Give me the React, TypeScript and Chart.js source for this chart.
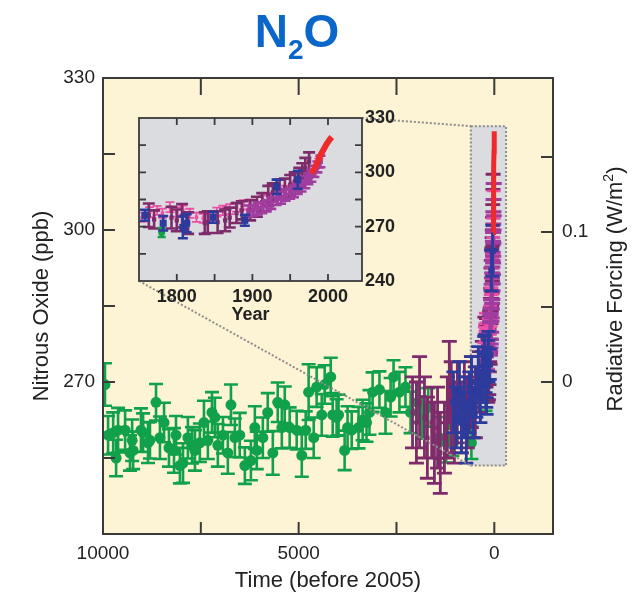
import React, { useEffect, useRef } from 'react';
import { Chart, registerables } from 'chart.js';

Chart.register(...registerables);

const FONT = "'Liberation Sans', Arial, Helvetica, sans-serif";
const TEXT = '#222222';
const FRAME = '#3a3a3a';
const PLOT_BG = '#fdf3d5';
const INSET_BG = '#dadcdf';
const DOT = '#8c8c8c';
const GREEN = '#10a14a';
const MAROON = '#7d2b6b';
const PURPLE = '#a13d9f';
const PINK = '#ec4fa6';
const BLUE = '#2c3b9c';
const RED = '#ee2a2a';

// ---------------- main chart axes ----------------
const AGE_MIN = -1500;
const AGE_MAX = 10000;
const PPB_MIN = 240;
const PPB_MAX = 330;
const AGE_TICKS = [10000, 7500, 5000, 2500, 0];
const AGE_LABELS = [10000, 5000, 0];
const PPB_TICKS = [240, 255, 270, 285, 300, 315, 330];
const PPB_LABELS = [270, 300, 330];
const RF_TICKS = [0, 0.05, 0.1, 0.15];
const RF_LABELS = [0, 0.1];
const RF_ZERO_PPB = 270;
const RF_PPB_PER_TENTH = 29.6;
const REF_YEAR = 2005;

// zoom box drawn in the main chart (years before 2005 / ppb)
const ZOOM_AGE = [600, -300];
const ZOOM_PPB = [253.5, 320.5];

// ---------------- inset axes ----------------
const YEAR_MIN = 1750;
const YEAR_MAX = 2045;
const YEAR_TICKS = [1800, 1850, 1900, 1950, 2000];
const YEAR_LABELS = [1800, 1900, 2000];
const INSET_PPB_TICKS = [240, 255, 270, 285, 300, 315, 330];
const INSET_PPB_LABELS = [240, 270, 300, 330];

// ---------------- ice-core data, years before 2005 ----------------
const GREEN_AGE = [
  9950, 9870, 9740, 9665, 9615, 9435, 9310, 9255, 9230, 9030,
  8975, 8850, 8800, 8645, 8545, 8440, 8315, 8185, 8135, 8035,
  7955, 7830, 7725, 7650, 7525, 7420, 7320, 7215, 7140, 7065,
  6935, 6810, 6730, 6630, 6505, 6375, 6220, 6120, 6070, 5915,
  5790, 5660, 5535, 5430, 5355, 5230, 5050, 4920, 4820, 4745,
  4615, 4540, 4410, 4335, 4180, 4130, 4030, 3980, 3825, 3750,
  3645, 3470, 3365, 3265, 3190, 3110, 2935, 2780, 2650, 2575,
  2425, 2270, 2140, 1960, 1840, 1690, 1400, 1230, 1095, 1070,
  585,
];
const GREEN_PPB = [
  269.5, 259.5, 260, 255, 260.5, 260.5, 256, 258.5, 256.5, 260.5,
  260, 258, 258.5, 266, 259, 262, 257, 256.5, 259.5, 253.5,
  254, 259, 257.5, 256.5, 258, 262, 258.5, 264, 263, 257.5,
  259.5, 256, 265.5, 259, 259.5, 253.5, 254.5, 261, 256.5, 259,
  264, 256, 266, 261, 265.5, 261, 260.5, 255.5, 260.5, 268,
  259, 269, 263.5, 269.5, 271, 263.5, 263, 263.5, 256.5, 261,
  260.5, 261, 262.5, 262, 264, 268, 268.5, 264, 267, 271,
  268, 269, 264, 266, 263, 265, 259, 258, 261.5, 259,
  258,
];
const GREEN_ERR = [
  4.2, 3.8, 4.0, 3.6, 4.4, 3.9, 3.5, 4.1, 3.7, 4.3,
  3.8, 4.0, 3.6, 3.6, 4.2, 3.9, 3.7, 4.4, 3.8, 3.5,
  3.9, 4.1, 3.6, 4.0, 3.8, 4.3, 3.7, 4.0, 3.9, 4.2,
  3.6, 4.1, 4.0, 3.8, 4.4, 3.6, 3.9, 4.2, 3.7, 4.0,
  3.8, 4.3, 3.9, 4.1, 3.6, 4.0, 3.8, 4.2, 3.7, 5.5,
  4.0, 3.9, 4.1, 3.8, 3.8, 4.3, 3.6, 4.0, 3.9, 4.2,
  3.7, 4.1, 4.0, 3.8, 4.4, 3.9, 3.6, 4.2, 3.8, 3.3,
  4.0, 3.9, 4.1, 4.0, 4.2, 3.8, 4.1, 3.9, 3.8, 3.6,
  3.2,
];
const MAROON_AGE = [2090, 1990, 1910, 1785, 1710, 1600, 1530, 1450, 1380, 1275, 1200, 1150, 1100, 1020, 945, 840, 765, 690, 585, 485, 380, 305];
const MAROON_AGE_PPB = [264, 262, 266, 263, 259, 262, 258, 261, 256, 259, 263, 270, 265, 262, 266, 263, 267, 264, 268, 266, 270, 272];
const MAROON_AGE_ERR = [7, 8, 9, 8, 8, 7, 8, 8, 8, 7, 8, 8, 9, 8, 8, 7, 7, 7, 7, 7, 6, 6];
const BLUE_AGE = [1045, 970, 890, 840, 765, 715, 640, 585, 535, 460, 410, 355, 305, 255, 205, 150];
const BLUE_AGE_PPB = [266, 263, 268, 262, 265, 260, 266, 270, 264, 268, 272, 267, 271, 274, 270, 275];
const BLUE_AGE_ERR = [6, 6, 6, 6, 6, 6, 6, 5, 5, 5, 5, 5, 5, 5, 5, 5];

// ---------------- recent data, calendar years ----------------
const PINK_YEAR = [1754, 1764, 1774, 1781, 1791, 1800, 1808, 1817, 1826, 1835, 1844, 1853, 1861, 1870, 1879, 1888, 1897, 1906, 1914, 1924, 1934, 1944, 1954, 1964, 1972, 1980, 1988];
const PINK_PPB = [275.2, 278, 279, 277.4, 280.8, 278, 279, 277.4, 275.2, 274.6, 275.2, 278, 279, 279.7, 280.8, 282, 282.5, 283.6, 284.7, 286, 288, 290, 292, 295, 298, 301, 305];
const PINK_ERR = [2.5, 2.8, 2.5, 2.6, 2.8, 2.5, 2.7, 2.5, 2.6, 2.5, 2.7, 2.5, 2.6, 2.8, 2.5, 2.6, 2.5, 2.7, 2.5, 2.6, 2.5, 2.7, 2.5, 2.6, 2.8, 2.5, 2.7];
const PURPLE_YEAR = [1895, 1901, 1907, 1913, 1919, 1925, 1932, 1938, 1944, 1950, 1955, 1960, 1965, 1970, 1974, 1978, 1982, 1986, 1990];
const PURPLE_PPB = [278.5, 279, 280, 280.5, 281.5, 283, 285, 286, 287.5, 288.5, 289.5, 291, 292.5, 294.5, 296.5, 298, 300.5, 303, 306];
const PURPLE_ERR = [3.2, 3, 3.3, 3, 3.1, 3.2, 3, 3.3, 3.1, 3, 3.2, 3, 3.1, 3.3, 3, 3.2, 3.1, 3, 3.2];
const MAROON_YEAR = [1763, 1770, 1793, 1800, 1807, 1815, 1837, 1841, 1854, 1864, 1870, 1879, 1886, 1897, 1906, 1913, 1921, 1927, 1936, 1943, 1950, 1956, 1962, 1966, 1970, 1975];
const MAROON_PPB = [276.3, 274, 275, 273.5, 276, 272, 272, 272.5, 272.5, 273.5, 275, 277.5, 279, 279, 281, 283.5, 287, 289, 290.5, 291.5, 293, 295, 297, 300, 302.5, 306];
const MAROON_ERR = [6.5, 5, 6, 6, 6.5, 6, 6, 6, 6, 6, 5.5, 5.5, 5, 5.5, 5.5, 5, 5.5, 5, 5.5, 5, 5.5, 5, 5.5, 5, 5.5, 5];
const BLUE_YEAR = [1758, 1782, 1808, 1813, 1848, 1890, 1932, 1960];
const BLUE_PPB = [276.3, 271.9, 269.6, 271.9, 275.2, 273.5, 292, 295.9];
const BLUE_ERR = [3, 4, 6, 5, 3, 3, 4, 5];
const GREEN_YEAR = [1780];
const GREEN_YEAR_PPB = [266.8];
const GREEN_YEAR_ERR = [2.5];
const RED_YEAR = [1978, 1982, 1986, 1990, 1994, 1998, 2002, 2005];
const RED_PPB = [299.5, 302, 305.5, 309.5, 312.5, 315.5, 318, 319.5];

// ---------------- layout ----------------
const MAIN_W = 641;
const MAIN_H = 596;
const MAIN_AREA = { left: 103, top: 78, right: 553, bottom: 534 };
const INSET_BOX = { left: 120, top: 98, width: 280, height: 240 };
const INSET_AREA = { left: 139, top: 118, right: 362, bottom: 281 };

const toAge = (years: number[]) => years.map((y) => REF_YEAR - y);
const pts = (xs: number[], ys: number[]) => xs.map((x, i) => ({ x, y: ys[i] }));

const errorBarPlugin = {
  id: 'errorBars',
  beforeDatasetDraw(chart: any, args: any) {
    const ds = chart.data.datasets[args.index];
    if (!ds.errors) return;
    const meta = args.meta;
    const yScale = chart.scales[meta.yAxisID];
    const a = chart.chartArea;
    const ctx = chart.ctx;
    const cap = ds.capHalf || 5;
    ctx.save();
    ctx.beginPath();
    ctx.rect(a.left, a.top, a.right - a.left, a.bottom - a.top);
    ctx.clip();
    ctx.strokeStyle = ds.errorColor;
    ctx.lineWidth = ds.errorWidth || 2;
    ctx.beginPath();
    meta.data.forEach((el: any, i: number) => {
      const p = ds.data[i];
      const e = ds.errors[i] ?? 0;
      const x = el.x;
      const yt = yScale.getPixelForValue(p.y + e);
      const yb = yScale.getPixelForValue(p.y - e);
      ctx.moveTo(x, yt);
      ctx.lineTo(x, yb);
      ctx.moveTo(x - cap, yt);
      ctx.lineTo(x + cap, yt);
      ctx.moveTo(x - cap, yb);
      ctx.lineTo(x + cap, yb);
    });
    ctx.stroke();
    ctx.restore();
  },
};

function drawTicks(
  ctx: any, a: any, xScale: any, yScale: any, xTicks: number[], yTicks: number[],
  len: number, topLen: number, rScale?: any, rTicks?: number[],
) {
  ctx.beginPath();
  xTicks.forEach((v) => {
    const px = xScale.getPixelForValue(v);
    ctx.moveTo(px, a.bottom);
    ctx.lineTo(px, a.bottom - len);
    ctx.moveTo(px, a.top);
    ctx.lineTo(px, a.top + topLen);
  });
  yTicks.forEach((v) => {
    const py = yScale.getPixelForValue(v);
    if (py <= a.top + 1 || py >= a.bottom - 1) return;
    ctx.moveTo(a.left, py);
    ctx.lineTo(a.left + len, py);
    if (!rScale) {
      ctx.moveTo(a.right, py);
      ctx.lineTo(a.right - len, py);
    }
  });
  if (rScale && rTicks) {
    rTicks.forEach((v) => {
      const py = rScale.getPixelForValue(v);
      ctx.moveTo(a.right, py);
      ctx.lineTo(a.right - len, py);
    });
  }
  ctx.stroke();
}

const mainDecor = {
  id: 'mainDecor',
  beforeDraw(chart: any) {
    const { ctx, chartArea: a, scales } = chart;
    ctx.save();
    ctx.fillStyle = PLOT_BG;
    ctx.fillRect(a.left, a.top, a.right - a.left, a.bottom - a.top);
    const x0 = scales.x.getPixelForValue(ZOOM_AGE[0]);
    const x1 = scales.x.getPixelForValue(ZOOM_AGE[1]);
    const y0 = scales.y.getPixelForValue(ZOOM_PPB[1]);
    const y1 = scales.y.getPixelForValue(ZOOM_PPB[0]);
    ctx.fillStyle = INSET_BG;
    ctx.fillRect(x0, y0, x1 - x0, y1 - y0);
    ctx.setLineDash([2, 2]);
    ctx.strokeStyle = DOT;
    ctx.lineWidth = 2;
    ctx.strokeRect(x0, y0, x1 - x0, y1 - y0);
    ctx.restore();
  },
  afterDatasetsDraw(chart: any) {
    const { ctx, chartArea: a, scales } = chart;
    const x0 = scales.x.getPixelForValue(ZOOM_AGE[0]);
    const y0 = scales.y.getPixelForValue(ZOOM_PPB[1]);
    const y1 = scales.y.getPixelForValue(ZOOM_PPB[0]);
    ctx.save();
    ctx.setLineDash([2, 2]);
    ctx.strokeStyle = DOT;
    ctx.lineWidth = 2;
    ctx.beginPath();
    ctx.moveTo(INSET_AREA.right, INSET_AREA.top);
    ctx.lineTo(x0, y0);
    ctx.moveTo(INSET_AREA.left, INSET_AREA.bottom);
    ctx.lineTo(x0, y1);
    ctx.stroke();
    ctx.setLineDash([]);
    ctx.strokeStyle = FRAME;
    ctx.lineWidth = 2;
    ctx.strokeRect(a.left, a.top, a.right - a.left, a.bottom - a.top);
    drawTicks(ctx, a, scales.x, scales.y, AGE_TICKS.filter((v) => v !== AGE_MAX), PPB_TICKS, 12, 17, scales.y2, RF_TICKS);
    ctx.restore();
  },
  afterDraw(chart: any) {
    const { ctx } = chart;
    ctx.save();
    ctx.translate(616, 289);
    ctx.rotate(-Math.PI / 2);
    ctx.fillStyle = TEXT;
    ctx.textBaseline = 'middle';
    ctx.textAlign = 'left';
    const mainFont = `22px ${FONT}`;
    const supFont = `14px ${FONT}`;
    const p1 = 'Radiative Forcing (W/m';
    const p2 = '2';
    const p3 = ')';
    ctx.font = mainFont;
    const w1 = ctx.measureText(p1).width;
    const w3 = ctx.measureText(p3).width;
    ctx.font = supFont;
    const w2 = ctx.measureText(p2).width;
    let x = -(w1 + w2 + w3) / 2;
    ctx.font = mainFont;
    ctx.fillText(p1, x, 0);
    x += w1;
    ctx.font = supFont;
    ctx.fillText(p2, x, -7);
    x += w2;
    ctx.font = mainFont;
    ctx.fillText(p3, x, 0);
    ctx.restore();
  },
};

const insetDecor = {
  id: 'insetDecor',
  beforeDraw(chart: any) {
    const { ctx, chartArea: a } = chart;
    ctx.save();
    ctx.fillStyle = INSET_BG;
    ctx.fillRect(a.left, a.top, a.right - a.left, a.bottom - a.top);
    ctx.restore();
  },
  afterDatasetsDraw(chart: any) {
    const { ctx, chartArea: a, scales } = chart;
    ctx.save();
    ctx.strokeStyle = FRAME;
    ctx.lineWidth = 1.8;
    ctx.strokeRect(a.left, a.top, a.right - a.left, a.bottom - a.top);
    drawTicks(ctx, a, scales.x, scales.y, YEAR_TICKS, INSET_PPB_TICKS, 7, 7);
    ctx.restore();
  },
};

function errSeries(label: string, xs: number[], ys: number[], errs: number[], color: string, o: any) {
  return {
    label,
    data: pts(xs, ys),
    errors: errs,
    errorColor: color,
    backgroundColor: color,
    borderColor: color,
    borderWidth: 0,
    ...o,
  };
}

export default function App() {
  const mainRef = useRef<HTMLCanvasElement>(null);
  const insetRef = useRef<HTMLCanvasElement>(null);

  useEffect(() => {
    const tickFont = { family: FONT, size: 19 };
    const titleFont = { family: FONT, size: 22 };
    const rfMin = ((PPB_MIN - RF_ZERO_PPB) / RF_PPB_PER_TENTH) * 0.1;
    const rfMax = ((PPB_MAX - RF_ZERO_PPB) / RF_PPB_PER_TENTH) * 0.1;

    const main = new Chart(mainRef.current as HTMLCanvasElement, {
      type: 'scatter',
      data: {
        datasets: [
          {
            label: 'Atmospheric',
            data: pts(toAge(RED_YEAR), RED_PPB),
            showLine: true,
            borderColor: RED,
            borderWidth: 5,
            pointRadius: 0,
            order: 0,
          } as any,
          errSeries('Blue', [...BLUE_AGE, ...toAge(BLUE_YEAR)], [...BLUE_AGE_PPB, ...BLUE_PPB], [...BLUE_AGE_ERR, ...BLUE_ERR], BLUE, { pointStyle: 'rect', pointRadius: 4.5, errorWidth: 2.8, capHalf: 7, order: 1 }),
          errSeries('Purple', toAge(PURPLE_YEAR), PURPLE_PPB, PURPLE_ERR, PURPLE, { pointStyle: 'rect', pointRadius: 3, errorWidth: 3, capHalf: 8, order: 2 }),
          errSeries('Pink', toAge(PINK_YEAR), PINK_PPB, PINK_ERR, PINK, { pointStyle: 'rect', pointRadius: 2.5, errorWidth: 2.6, capHalf: 7, order: 3 }),
          errSeries('Maroon', [...MAROON_AGE, ...toAge(MAROON_YEAR)], [...MAROON_AGE_PPB, ...MAROON_PPB], [...MAROON_AGE_ERR, ...MAROON_ERR], MAROON, { pointStyle: 'rect', pointRadius: 3, errorWidth: 2.8, capHalf: 7.5, order: 4 }),
          errSeries('Green', [...GREEN_AGE, ...toAge(GREEN_YEAR)], [...GREEN_PPB, ...GREEN_YEAR_PPB], [...GREEN_ERR, ...GREEN_YEAR_ERR], GREEN, { pointStyle: 'circle', pointRadius: 5.5, errorWidth: 2.6, capHalf: 7, order: 5 }),
        ],
      },
      options: {
        responsive: false,
        animation: false,
        devicePixelRatio: 1,
        layout: { padding: { top: MAIN_AREA.top, left: 0, right: 0, bottom: 0 } },
        plugins: { legend: { display: false }, tooltip: { enabled: false }, title: { display: false } },
        scales: {
          x: {
            type: 'linear',
            position: 'bottom',
            reverse: true,
            min: AGE_MIN,
            max: AGE_MAX,
            afterBuildTicks: (s: any) => { s.ticks = AGE_TICKS.map((v) => ({ value: v })); },
            afterFit: (s: any) => { s.height = MAIN_H - MAIN_AREA.bottom; },
            ticks: {
              autoSkip: false,
              maxRotation: 0,
              padding: 8,
              color: TEXT,
              font: tickFont,
              callback: (v: any) => (AGE_LABELS.includes(v) ? String(v) : ''),
            },
            grid: { display: false, drawTicks: false },
            border: { display: false },
            title: { display: true, text: 'Time (before 2005)', color: TEXT, font: titleFont, padding: { top: 0, bottom: 2 } },
          },
          y: {
            type: 'linear',
            position: 'left',
            min: PPB_MIN,
            max: PPB_MAX,
            afterBuildTicks: (s: any) => { s.ticks = PPB_TICKS.map((v) => ({ value: v })); },
            afterFit: (s: any) => { s.width = MAIN_AREA.left; },
            ticks: {
              autoSkip: false,
              padding: 8,
              color: TEXT,
              font: tickFont,
              callback: (v: any) => (PPB_LABELS.includes(v) ? String(v) : ''),
            },
            grid: { display: false, drawTicks: false },
            border: { display: false },
            title: { display: true, text: 'Nitrous Oxide (ppb)', color: TEXT, font: titleFont, padding: { top: 29, bottom: 0 } },
          },
          y2: {
            type: 'linear',
            position: 'right',
            min: rfMin,
            max: rfMax,
            afterBuildTicks: (s: any) => { s.ticks = RF_TICKS.map((v) => ({ value: v })); },
            afterFit: (s: any) => { s.width = MAIN_W - MAIN_AREA.right; },
            ticks: {
              autoSkip: false,
              padding: 9,
              color: TEXT,
              font: tickFont,
              callback: (v: any) => (RF_LABELS.includes(v) ? String(v) : ''),
            },
            grid: { display: false, drawTicks: false },
            border: { display: false },
          },
        },
      } as any,
      plugins: [mainDecor, errorBarPlugin],
    });

    const boldTick = { family: FONT, size: 18, weight: 'bold' as const };
    const inset = new Chart(insetRef.current as HTMLCanvasElement, {
      type: 'scatter',
      data: {
        datasets: [
          {
            label: 'Atmospheric',
            data: pts(RED_YEAR, RED_PPB),
            showLine: true,
            borderColor: RED,
            borderWidth: 6,
            pointRadius: 0,
            order: 0,
          } as any,
          errSeries('Blue', BLUE_YEAR, BLUE_PPB, BLUE_ERR, BLUE, { pointStyle: 'rect', pointRadius: 5, errorWidth: 2.6, capHalf: 5, order: 1 }),
          errSeries('Green', GREEN_YEAR, GREEN_YEAR_PPB, GREEN_YEAR_ERR, GREEN, { pointStyle: 'circle', pointRadius: 3.5, errorWidth: 2.4, capHalf: 4, order: 2 }),
          errSeries('Purple', PURPLE_YEAR, PURPLE_PPB, PURPLE_ERR, PURPLE, { pointStyle: 'rect', pointRadius: 3.5, errorWidth: 2.6, capHalf: 5, order: 3 }),
          errSeries('Maroon', MAROON_YEAR, MAROON_PPB, MAROON_ERR, MAROON, { pointStyle: 'rect', pointRadius: 3, errorWidth: 2.6, capHalf: 6, order: 4 }),
          errSeries('Pink', PINK_YEAR, PINK_PPB, PINK_ERR, PINK, { pointStyle: 'rect', pointRadius: 2.5, errorWidth: 1.8, capHalf: 4.5, order: 5 }),
        ],
      },
      options: {
        responsive: false,
        animation: false,
        devicePixelRatio: 1,
        layout: {
          padding: {
            left: INSET_AREA.left - INSET_BOX.left,
            top: INSET_AREA.top - INSET_BOX.top,
            right: 0,
            bottom: 0,
          },
        },
        plugins: { legend: { display: false }, tooltip: { enabled: false }, title: { display: false } },
        scales: {
          x: {
            type: 'linear',
            position: 'bottom',
            min: YEAR_MIN,
            max: YEAR_MAX,
            afterBuildTicks: (s: any) => { s.ticks = YEAR_TICKS.map((v) => ({ value: v })); },
            afterFit: (s: any) => { s.height = INSET_BOX.top + INSET_BOX.height - INSET_AREA.bottom; },
            ticks: {
              autoSkip: false,
              maxRotation: 0,
              padding: 5,
              color: TEXT,
              font: boldTick,
              callback: (v: any) => (YEAR_LABELS.includes(v) ? String(v) : ''),
            },
            grid: { display: false, drawTicks: false },
            border: { display: false },
            title: { display: true, text: 'Year', color: TEXT, font: boldTick, padding: { top: 0, bottom: 12 } },
          },
          y: {
            type: 'linear',
            position: 'right',
            min: PPB_MIN,
            max: PPB_MAX,
            afterBuildTicks: (s: any) => { s.ticks = INSET_PPB_TICKS.map((v) => ({ value: v })); },
            afterFit: (s: any) => { s.width = INSET_BOX.left + INSET_BOX.width - INSET_AREA.right; },
            ticks: {
              autoSkip: false,
              padding: 3,
              color: TEXT,
              font: boldTick,
              callback: (v: any) => (INSET_PPB_LABELS.includes(v) ? String(v) : ''),
            },
            grid: { display: false, drawTicks: false },
            border: { display: false },
          },
        },
      } as any,
      plugins: [insetDecor, errorBarPlugin],
    });

    return () => {
      main.destroy();
      inset.destroy();
    };
  }, []);

  return (
    <div style={{ position: 'absolute', left: 0, top: 0, width: MAIN_W, height: MAIN_H, background: '#ffffff' }}>
      <canvas ref={mainRef} width={MAIN_W} height={MAIN_H} style={{ position: 'absolute', left: 0, top: 0 }} />
      <canvas
        ref={insetRef}
        width={INSET_BOX.width}
        height={INSET_BOX.height}
        style={{ position: 'absolute', left: INSET_BOX.left, top: INSET_BOX.top }}
      />
      <div
        style={{
          position: 'absolute',
          left: 0,
          top: 8,
          width: 594,
          textAlign: 'center',
          fontFamily: FONT,
          fontWeight: 'bold',
          fontSize: 46,
          lineHeight: '46px',
          color: '#0a66c8',
        }}
      >
        N<span style={{ fontSize: 28, lineHeight: 0, position: 'relative', top: 12 }}>2</span>O
      </div>
    </div>
  );
}
